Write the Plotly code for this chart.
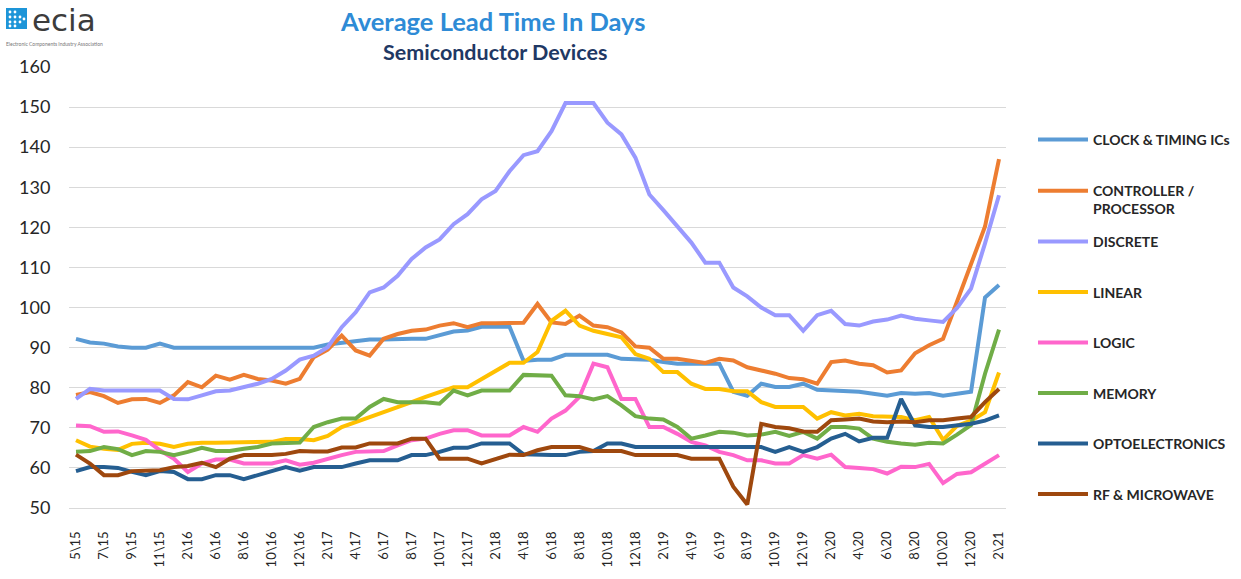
import plotly.graph_objects as go

# ---------------- data ----------------
months = [
    "5\\15", "6\\15", "7\\15", "8\\15", "9\\15", "10\\15", "11\\15", "12\\15",
    "2\\16", "4\\16", "6\\16", "7\\16", "8\\16", "9\\16", "10\\16", "11\\16", "12\\16",
    "1\\17", "2\\17", "3\\17", "4\\17", "5\\17", "6\\17", "7\\17", "8\\17", "9\\17", "10\\17", "11\\17", "12\\17",
    "1\\18", "2\\18", "3\\18", "4\\18", "5\\18", "6\\18", "7\\18", "8\\18", "9\\18", "10\\18", "11\\18", "12\\18",
    "1\\19", "2\\19", "3\\19", "4\\19", "5\\19", "6\\19", "7\\19", "8\\19", "9\\19", "10\\19", "11\\19", "12\\19",
    "1\\20", "2\\20", "3\\20", "4\\20", "5\\20", "6\\20", "7\\20", "8\\20", "9\\20", "10\\20", "11\\20", "12\\20",
    "1\\21", "2\\21",
]
tick_labels = months[::2]

clock_timing = [
    92.2, 91.3, 91, 90.3, 90, 90, 91, 90, 90, 90, 90, 90, 90, 90, 90, 90, 90,
    90, 90.8, 91.2, 91.5, 92, 92, 92.2, 92.2, 92.2, 93, 94, 94.3, 95.2, 95.2, 95.2, 86.7,
    87, 87, 88.2, 88.2, 88.2, 88.2, 87.2, 87, 87, 86.4, 86, 86, 86, 86, 79, 78, 81,
    80.2, 80.2, 81, 79.5, 79.3, 79, 79, 78.5, 78, 78.7, 78.5, 78.7, 78, 78.5, 79, 102.5, 105.6,
]
controller = [
    78.2, 78.9, 77.9, 76.2, 77.1, 77.2, 76.2, 78.1, 81.4, 80.1, 83, 82, 83.2, 82.2, 81.8, 81, 82.2,
    87.6, 89.5, 93, 89.3, 88, 92.2, 93.4, 94.2, 94.5, 95.5, 96.1, 95.1, 96.1, 96.1, 96.1, 96.2,
    100.9, 96.3, 95.9, 98, 95.5, 95.1, 93.8, 90.3, 90, 87.2, 87.2, 86.8, 86.2, 87.2, 86.8, 85.1, 84.3,
    83.5, 82.4, 82.1, 81, 86.4, 86.8, 86, 85.6, 83.8, 84.3, 88.6, 90.6, 92.2, 101.5, 111.2, 120.2, 137,
]
discrete = [
    77.2, 79.7, 79.3, 79.3, 79.3, 79.3, 79.3, 77.2, 77.1, 78.1, 79.1, 79.3, 80.1, 81, 82.2, 84.3, 87,
    88, 90.1, 95.1, 98.8, 103.8, 105, 107.9, 112.1, 115, 117, 120.8, 123.3, 127, 129.1, 134, 138,
    139, 144, 151, 151, 151, 146.1, 143.2, 137.4, 128.2, 124.3, 120.4, 116.2, 111.2, 111.2, 105, 102.8, 100,
    98.1, 98.1, 94.2, 98.1, 99.2, 95.9, 95.5, 96.5, 97, 98, 97.2, 96.8, 96.4, 99.9, 104.7, 116, 128,
]
linear = [
    66.9, 65.3, 64.8, 64.5, 66, 66.3, 66, 65.2, 66, 66.3, 66.3, 66.3, 66.3, 66.3, 66.5, 67.2, 67.2,
    66.9, 68, 70.2, 71.4, 72.7, 73.9, 75.2, 76.4, 77.7, 78.9, 80.1, 80.1, 82.2, 84.3, 86.2, 86.2,
    88.9, 96.7, 99.2, 95.5, 94.2, 93.4, 92.6, 88.4, 87.2, 83.9, 83.9, 81, 79.7, 79.7, 79.1, 79.1, 76.4,
    75.2, 75.2, 75.2, 72.3, 73.9, 73.1, 73.5, 72.9, 72.7, 72.7, 71.9, 72.7, 67, 70.5, 71.8, 73.9, 83.8,
]
logic = [
    70.6, 70.4, 69, 69.1, 68.1, 67, 64.4, 62.3, 59, 61.1, 62.1, 62.1, 61.1, 61.1, 61.1, 61.9, 60.8,
    61.3, 62.3, 63.2, 64, 64.2, 64.2, 65.6, 66.9, 67.3, 68.5, 69.4, 69.4, 68.1, 68.1, 68.1, 70.2,
    69, 72.3, 74.3, 77.7, 86, 85.1, 77.2, 77.2, 70.2, 70.2, 68.5, 66.5, 65.6, 64, 63.2, 61.9, 61.9,
    61.1, 61.1, 63.2, 62.3, 63.3, 60.2, 60, 59.7, 58.6, 60.3, 60.2, 61, 56.2, 58.5, 58.9, 61, 63.2,
]
memory = [
    64, 64.2, 65.2, 64.7, 63.2, 64.2, 64, 63.2, 64, 65, 64.2, 64.2, 64.8, 65.2, 66.1, 66.3, 66.3,
    70.2, 71.4, 72.3, 72.3, 75.2, 77.2, 76.4, 76.4, 76.4, 76, 79.3, 78.1, 79.3, 79.3, 79.3, 83.2,
    83.2, 83, 78.1, 77.9, 77.1, 77.9, 75.6, 72.9, 72.3, 72.1, 70.2, 67.3, 68.1, 69, 68.8, 68.1, 68.3,
    69, 68, 69, 67.3, 70.2, 70.2, 69.8, 67.3, 66.5, 66.1, 65.8, 66.3, 66.1, 68.3, 70.7, 83.5, 94.5,
]
optoelectronics = [
    59.2, 60.2, 60.2, 60, 59, 58.2, 59.2, 59, 57.2, 57.2, 58.2, 58.2, 57.2, 58.2, 59.2, 60.2, 59.3,
    60.2, 60.2, 60.2, 61.1, 61.9, 61.9, 61.9, 63.2, 63.2, 64, 65, 65, 66.1, 66.1, 66.1, 63.4,
    63.2, 63.2, 63.2, 64, 64.2, 66.1, 66.1, 65.2, 65.2, 65.2, 65.2, 65.2, 65.2, 65.2, 65.2, 65.2, 65.2,
    64, 65.2, 64, 65.2, 67.3, 68.5, 66.6, 67.5, 67.5, 77.2, 70.6, 70.2, 70.2, 70.6, 71, 71.8, 73.1,
]
rf_microwave = [
    63.3, 61.1, 58.2, 58.2, 59.2, 59.2, 59.4, 60.2, 60.5, 61.3, 60.2, 62.3, 63.2, 63.2, 63.2, 63.5, 64.2,
    64.1, 64.1, 65.1, 65.1, 66.1, 66.1, 66.1, 67.3, 67.3, 62.3, 62.3, 62.3, 61.1, 62.3, 63.3, 63.2,
    64.4, 65.2, 65.2, 65.2, 64.2, 64.2, 64.2, 63.2, 63.2, 63.2, 63.2, 62.3, 62.3, 62.3, 55.3, 50.9, 71,
    70.2, 69.9, 69.1, 69, 71.9, 72.1, 72.3, 71.6, 71.4, 71.6, 71.4, 71.9, 71.9, 72.3, 72.7, 76.4, 79.7,
]

series_names = ["CLOCK & TIMING ICs", "CONTROLLER /<br>PROCESSOR", "DISCRETE", "LINEAR",
                "LOGIC", "MEMORY", "OPTOELECTRONICS", "RF & MICROWAVE"]
series_values = [clock_timing, controller, discrete, linear, logic, memory,
                 optoelectronics, rf_microwave]
series_colors = ["#5B9BD5", "#ED7D31", "#9999FF", "#FFC000", "#FF66CC", "#70AD47",
                 "#255E91", "#9E480E"]

# ---------------- figure ----------------
W, H = 1241, 579
L, R, T, B = 69, 235, 67, 71

fig = go.Figure()
for k, (name, vals, col) in enumerate(zip(series_names, series_values, series_colors)):
    fig.add_trace(go.Scatter(
        x=months, y=vals, name=name, mode="lines",
        line=dict(color=col, width=4),
        legend="legend" if k < 2 else "legend2",
        legendgroup=f"g{k}",
    ))

def px2x(px):
    return (px - L) / (W - L - R)

def py2y(py):
    return (H - B - py) / (H - T - B)

legend_common = dict(
    xref="container", yref="container", xanchor="left", yanchor="top",
    font=dict(family="Lato", size=14, color="#262626", weight="bold"),
    bgcolor="rgba(0,0,0,0)", borderwidth=0,
    itemwidth=50, valign="top", traceorder="grouped",
)

fig.update_layout(
    width=W, height=H,
    margin=dict(l=L, r=R, t=T, b=B, pad=0),
    paper_bgcolor="white", plot_bgcolor="white",
    font=dict(family="Lato", color="#262626"),
    showlegend=True,
    legend=dict(x=1033 / W, y=1 - 124 / H, tracegroupgap=30.0, **legend_common),
    legend2=dict(x=1033 / W, y=1 - 226 / H, tracegroupgap=29.3, **legend_common),
    xaxis=dict(
        type="category", range=[-0.5, len(months) - 0.5],
        tickmode="array", tickvals=tick_labels, ticktext=tick_labels,
        tickangle=-90, tickfont=dict(family="Lato", size=13, color="#262626"),
        ticks="outside", ticklen=17, tickcolor="rgba(0,0,0,0)",
        showgrid=False, showline=True, linecolor="#D9D9D9", linewidth=1.3,
        zeroline=False, fixedrange=True,
    ),
    yaxis=dict(
        range=[50, 160], dtick=10, tick0=50,
        tickfont=dict(family="Lato", size=18, color="#262626"),
        ticks="outside", ticklen=14, tickcolor="rgba(0,0,0,0)",
        showgrid=True, gridcolor="#D9D9D9", gridwidth=1.3,
        zeroline=False, showline=False, fixedrange=True,
    ),
)

# titles
fig.add_annotation(
    text="<b>Average Lead Time In Days</b>", xref="paper", yref="paper",
    x=px2x(493), y=py2y(21), xanchor="center", yanchor="middle", showarrow=False,
    font=dict(family="Lato", size=25.5, color="#2E8BD6"),
)
fig.add_annotation(
    text="<b>Semiconductor Devices</b>", xref="paper", yref="paper",
    x=px2x(495), y=py2y(51.5), xanchor="center", yanchor="middle", showarrow=False,
    font=dict(family="Lato", size=21.5, color="#1F3864"),
)

# ecia logo
fig.add_shape(type="rect", xref="paper", yref="paper",
              x0=px2x(6), x1=px2x(27), y0=py2y(29), y1=py2y(8),
              fillcolor="#1D95D8", line=dict(width=0), layer="above")
for cx, cy in [(10, 12), (15, 12), (10, 17), (15, 17), (20, 17), (10, 22),
               (15, 22), (20, 22), (24, 19), (15, 26), (10, 26)]:
    fig.add_shape(type="circle", xref="paper", yref="paper",
                  x0=px2x(cx - 1.4), x1=px2x(cx + 1.4), y0=py2y(cy + 1.4), y1=py2y(cy - 1.4),
                  fillcolor="white", line=dict(width=0), layer="above")
fig.add_annotation(
    text="ecia", xref="paper", yref="paper", x=px2x(30), y=py2y(19.5),
    xanchor="left", yanchor="middle", showarrow=False,
    font=dict(family="DejaVu Sans", size=31, color="#3C3C3C"),
)
fig.add_annotation(
    text="Electronic Components Industry Association", xref="paper", yref="paper",
    x=px2x(4), y=py2y(44), xanchor="left", yanchor="middle", showarrow=False,
    font=dict(family="Lato", size=5, color="#777777"),
)

fig.write_html("out.html", config={"displayModeBar": False},
               post_script="document.body.style.margin='0px';")
